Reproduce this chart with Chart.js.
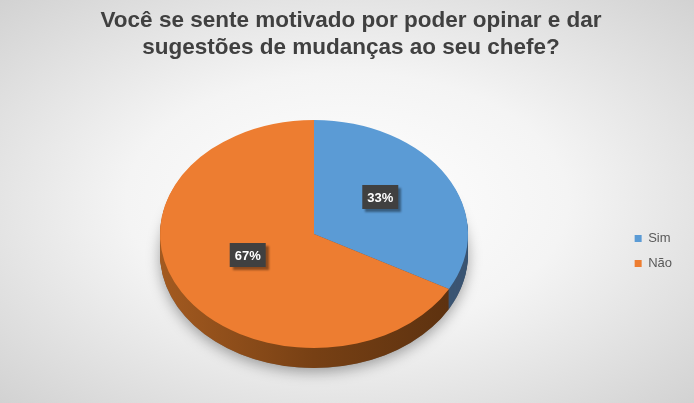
<!DOCTYPE html>
<html>
<head>
<meta charset="utf-8">
<script src="https://cdn.jsdelivr.net/npm/chart.js@4"></script>
<style>
  html, body { margin: 0; padding: 0; }
  body {
    width: 694px; height: 403px; overflow: hidden;
    background: radial-gradient(ellipse at 50% 50%, #ffffff 0%, #f4f4f4 45%, #d2d2d2 100%);
  }
  #wrap { width: 694px; height: 403px; position: relative; }
</style>
</head>
<body>
<div id="wrap"><canvas id="chart"></canvas></div>
<script>
// Data
const categories = ['Sim', 'Não'];
const values = [33, 67];
const titleLines = ['Você se sente motivado por poder opinar e dar', 'sugestões de mudanças ao seu chefe?'];

const faceColors = ['#5b9bd5', '#ed7d31'];

// where the tilted pie sits on the page
const PIE_X = 314, PIE_Y = 234, RX = 154, RY = 114, DEPTH = 20;

function pieTransform(ctx, arc, dy) {
    const r = arc.outerRadius;
    ctx.translate(PIE_X, PIE_Y + dy);
    ctx.scale(RX / r, RY / r);
    ctx.translate(-arc.x, -arc.y);
}

const tiltPlugin = {
    id: 'tilt',
    beforeDatasetsDraw(chart) {
        const ctx = chart.ctx;
        const arcs = chart.getDatasetMeta(0).data;
        if (!arcs.length) return;
        const a = arcs[0];
        const r = a.outerRadius;

        // soft shadow under the pie
        ctx.save();
        ctx.shadowColor = 'rgba(0,0,0,0.35)';
        ctx.shadowBlur = 14;
        ctx.shadowOffsetY = 4;
        ctx.beginPath();
        ctx.ellipse(PIE_X, PIE_Y + DEPTH, RX, RY, 0, 0, Math.PI * 2);
        ctx.fillStyle = '#7a7a7a';
        ctx.fill();
        ctx.restore();

        // side walls
        for (let dy = DEPTH; dy >= 1; dy--) {
            ctx.save();
            pieTransform(ctx, a, dy);
            arcs.forEach((arc, i) => {
                let fill;
                if (i === 1) {
                    const g = ctx.createLinearGradient(a.x - r, 0, a.x + r, 0);
                    g.addColorStop(0, '#a35a20');
                    g.addColorStop(0.5, '#774014');
                    g.addColorStop(1, '#5a300f');
                    fill = g;
                } else {
                    fill = '#3b5573';
                }
                ctx.beginPath();
                ctx.moveTo(arc.x, arc.y);
                ctx.arc(arc.x, arc.y, r, arc.startAngle, arc.endAngle);
                ctx.closePath();
                ctx.fillStyle = fill;
                ctx.fill();
            });
            ctx.restore();
        }

        // top face gets drawn by Chart.js under this transform
        ctx.save();
        pieTransform(ctx, a, 0);
    },
    afterDatasetsDraw(chart) {
        const ctx = chart.ctx;
        const arcs = chart.getDatasetMeta(0).data;
        if (!arcs.length) return;
        ctx.restore();

        const a = arcs[0];
        const r = a.outerRadius;
        const total = values.reduce((s, v) => s + v, 0);
        arcs.forEach((arc, i) => {
            const p = arc.tooltipPosition();
            const x = PIE_X + (p.x - a.x) * RX / r;
            const y = PIE_Y + (p.y - a.y) * RY / r - 8;
            const text = Math.round(values[i] / total * 100) + '%';
            ctx.save();
            ctx.font = 'bold 13px "Liberation Sans", Arial, sans-serif';
            const w = ctx.measureText(text).width + 10;
            const h = 24;
            ctx.shadowColor = 'rgba(0,0,0,0.4)';
            ctx.shadowBlur = 2;
            ctx.shadowOffsetX = 3;
            ctx.shadowOffsetY = 3;
            ctx.fillStyle = '#404040';
            ctx.fillRect(x - w / 2, y - h / 2, w, h);
            ctx.restore();
            ctx.save();
            ctx.font = 'bold 13px "Liberation Sans", Arial, sans-serif';
            ctx.fillStyle = '#ffffff';
            ctx.textAlign = 'center';
            ctx.textBaseline = 'middle';
            ctx.fillText(text, x, y + 1);
            ctx.restore();
        });
    }
};

new Chart(document.getElementById('chart'), {
    type: 'pie',
    data: {
        labels: categories,
        datasets: [{
            data: values,
            backgroundColor: faceColors,
            borderWidth: 0,
            clip: false
        }]
    },
    options: {
        responsive: true,
        maintainAspectRatio: false,
        animation: false,
        rotation: 0,
        layout: { padding: { left: 20, right: 12, bottom: 0 } },
        plugins: {
            title: {
                display: true,
                text: titleLines,
                color: '#404040',
                font: { family: '"Liberation Sans", Arial, sans-serif', size: 22.5, weight: 'bold', lineHeight: 1.2 },
                padding: { top: 7, bottom: 38 }
            },
            legend: {
                position: 'right',
                fullSize: false,
                labels: {
                    boxWidth: 7,
                    boxHeight: 7,
                    color: '#595959',
                    padding: 12,
                    font: { family: '"Liberation Sans", Arial, sans-serif', size: 13 }
                }
            },
            tooltip: { enabled: false }
        }
    },
    plugins: [tiltPlugin]
});
</script>
</body>
</html>
